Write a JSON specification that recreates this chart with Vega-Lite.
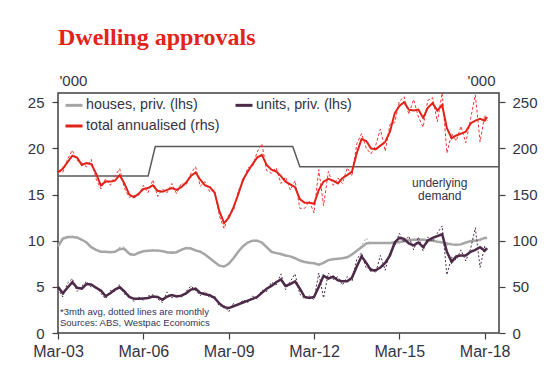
{
"$schema": "https://vega.github.io/schema/vega-lite/v6.json",
"width": 441, "height": 240,
"autosize": "none",
"padding": {"left": 58, "top": 93, "right": 59, "bottom": 58},
"background": "white",
"title": {"text": "Dwelling approvals", "anchor": "start", "frame": "group", "font": "Liberation Serif", "fontSize": 24, "fontWeight": "bold", "color": "#e2231a", "offset": 23},
"config": {
 "view": {"stroke": "#404040", "strokeWidth": 1.5},
 "font": "Liberation Sans",
 "axis": {"domain": false, "grid": false, "tickColor": "#404040", "tickWidth": 1.2, "tickSize": 6, "labelColor": "#333344", "titleColor": "#333344", "labelFont": "Liberation Sans", "titleFont": "Liberation Sans", "titleFontWeight": "normal"},
 "axisLeft": {"values": [0, 5, 10, 15, 20, 25], "labelFontSize": 15, "labelPadding": 8, "titleAngle": 0, "titleFontSize": 15, "titleAlign": "left", "titleBaseline": "alphabetic", "titleX": 1, "titleY": -8},
 "axisRight": {"values": [0, 50, 100, 150, 200, 250], "labelFontSize": 15, "labelPadding": 7, "titleAngle": 0, "titleFontSize": 15, "titleAlign": "right", "titleBaseline": "alphabetic", "titleX": -4, "titleY": -8}
},
"datasets": {
 "main": [
{"d":"2003-03-01","h":9.4,"hm":9.3,"u":5.0,"um":4.8,"t":174,"tm":176},
{"d":"2003-05-01","h":10.2,"hm":10.4,"u":4.3,"um":3.9,"t":178,"tm":174},
{"d":"2003-07-01","h":10.4,"hm":10.3,"u":4.9,"um":5.4,"t":185,"tm":188},
{"d":"2003-09-01","h":10.4,"hm":10.5,"u":5.5,"um":5.9,"t":192,"tm":198},
{"d":"2003-11-01","h":10.35,"hm":10.2,"u":4.9,"um":4.5,"t":190,"tm":187},
{"d":"2004-01-01","h":10.1,"hm":10.2,"u":4.8,"um":5.1,"t":182,"tm":184},
{"d":"2004-03-01","h":9.8,"hm":9.7,"u":5.3,"um":5.6,"t":184,"tm":180},
{"d":"2004-05-01","h":9.3,"hm":9.4,"u":5.25,"um":4.95,"t":183,"tm":188},
{"d":"2004-07-01","h":9.0,"hm":8.9,"u":4.9,"um":5.1,"t":173,"tm":167},
{"d":"2004-09-01","h":8.8,"hm":8.9,"u":4.6,"um":4.3,"t":160,"tm":156},
{"d":"2004-11-01","h":8.8,"hm":8.7,"u":4.0,"um":3.7,"t":164,"tm":167},
{"d":"2005-01-01","h":8.75,"hm":8.85,"u":4.3,"um":4.6,"t":164,"tm":160},
{"d":"2005-03-01","h":8.8,"hm":8.7,"u":4.7,"um":4.5,"t":165,"tm":170},
{"d":"2005-05-01","h":9.1,"hm":9.3,"u":4.95,"um":5.25,"t":171,"tm":178},
{"d":"2005-07-01","h":9.1,"hm":9.3,"u":4.5,"um":4.2,"t":162,"tm":157},
{"d":"2005-09-01","h":8.6,"hm":8.4,"u":3.9,"um":4.1,"t":150,"tm":147},
{"d":"2005-11-01","h":8.45,"hm":8.5,"u":3.7,"um":3.4,"t":147,"tm":149},
{"d":"2006-01-01","h":8.7,"hm":8.6,"u":3.7,"um":3.9,"t":151,"tm":149},
{"d":"2006-03-01","h":8.85,"hm":8.95,"u":3.75,"um":3.55,"t":156,"tm":160},
{"d":"2006-05-01","h":8.9,"hm":8.8,"u":3.8,"um":4.0,"t":157,"tm":152},
{"d":"2006-07-01","h":8.95,"hm":9.05,"u":3.95,"um":4.15,"t":160,"tm":166},
{"d":"2006-09-01","h":8.95,"hm":8.85,"u":3.9,"um":3.7,"t":154,"tm":148},
{"d":"2006-11-01","h":8.85,"hm":8.95,"u":3.6,"um":3.3,"t":153,"tm":156},
{"d":"2007-01-01","h":8.75,"hm":8.65,"u":3.95,"um":4.45,"t":155,"tm":152},
{"d":"2007-03-01","h":8.7,"hm":8.8,"u":4.1,"um":3.8,"t":157,"tm":162},
{"d":"2007-05-01","h":8.75,"hm":8.65,"u":3.95,"um":4.15,"t":155,"tm":151},
{"d":"2007-07-01","h":9.0,"hm":9.1,"u":4.05,"um":3.85,"t":158,"tm":162},
{"d":"2007-09-01","h":9.2,"hm":9.15,"u":4.3,"um":4.5,"t":163,"tm":160},
{"d":"2007-11-01","h":9.15,"hm":9.25,"u":4.7,"um":5.1,"t":170,"tm":173},
{"d":"2008-01-01","h":8.95,"hm":8.85,"u":4.8,"um":4.6,"t":174,"tm":180},
{"d":"2008-03-01","h":8.8,"hm":8.9,"u":4.35,"um":4.05,"t":166,"tm":159},
{"d":"2008-05-01","h":8.5,"hm":8.4,"u":4.2,"um":4.5,"t":160,"tm":164},
{"d":"2008-07-01","h":8.1,"hm":8.2,"u":4.1,"um":3.8,"t":158,"tm":153},
{"d":"2008-09-01","h":7.7,"hm":7.6,"u":3.8,"um":4.0,"t":152,"tm":155},
{"d":"2008-11-01","h":7.3,"hm":7.4,"u":3.2,"um":2.9,"t":132,"tm":127},
{"d":"2009-01-01","h":7.2,"hm":7.1,"u":2.8,"um":3.0,"t":119,"tm":113},
{"d":"2009-03-01","h":7.5,"hm":7.6,"u":2.7,"um":2.3,"t":125,"tm":128},
{"d":"2009-05-01","h":8.1,"hm":8.0,"u":2.9,"um":3.2,"t":136,"tm":132},
{"d":"2009-07-01","h":8.8,"hm":8.9,"u":3.1,"um":2.9,"t":150,"tm":154},
{"d":"2009-09-01","h":9.4,"hm":9.3,"u":3.3,"um":3.6,"t":166,"tm":163},
{"d":"2009-11-01","h":9.8,"hm":9.9,"u":3.5,"um":3.3,"t":175,"tm":179},
{"d":"2010-01-01","h":10.0,"hm":9.95,"u":3.7,"um":4.0,"t":183,"tm":180},
{"d":"2010-03-01","h":10.0,"hm":10.1,"u":3.9,"um":3.7,"t":190,"tm":196},
{"d":"2010-05-01","h":9.8,"hm":9.7,"u":4.35,"um":4.65,"t":193,"tm":205},
{"d":"2010-07-01","h":9.3,"hm":9.4,"u":4.8,"um":4.5,"t":182,"tm":176},
{"d":"2010-09-01","h":8.8,"hm":8.7,"u":5.1,"um":5.5,"t":177,"tm":173},
{"d":"2010-11-01","h":8.65,"hm":8.75,"u":5.5,"um":5.2,"t":175,"tm":179},
{"d":"2011-01-01","h":8.55,"hm":8.45,"u":5.8,"um":6.4,"t":170,"tm":162},
{"d":"2011-03-01","h":8.4,"hm":8.5,"u":5.1,"um":4.7,"t":164,"tm":169},
{"d":"2011-05-01","h":8.3,"hm":8.2,"u":5.3,"um":5.6,"t":161,"tm":155},
{"d":"2011-07-01","h":8.1,"hm":8.2,"u":5.6,"um":6.4,"t":158,"tm":165},
{"d":"2011-09-01","h":7.85,"hm":7.75,"u":4.8,"um":4.2,"t":145,"tm":135},
{"d":"2011-11-01","h":7.7,"hm":7.8,"u":3.9,"um":3.7,"t":141,"tm":135},
{"d":"2012-01-01","h":7.6,"hm":7.5,"u":3.8,"um":4.0,"t":141,"tm":143},
{"d":"2012-03-01","h":7.55,"hm":7.65,"u":3.9,"um":3.6,"t":140,"tm":130},
{"d":"2012-05-01","h":7.4,"hm":7.3,"u":5.0,"um":6.5,"t":155,"tm":177},
{"d":"2012-07-01","h":7.6,"hm":7.7,"u":6.2,"um":3.8,"t":164,"tm":138},
{"d":"2012-09-01","h":7.9,"hm":7.8,"u":5.9,"um":6.5,"t":167,"tm":175},
{"d":"2012-11-01","h":8.0,"hm":8.1,"u":6.1,"um":5.8,"t":165,"tm":160},
{"d":"2013-01-01","h":8.05,"hm":7.95,"u":5.7,"um":6.1,"t":162,"tm":168},
{"d":"2013-03-01","h":8.1,"hm":8.2,"u":5.6,"um":5.2,"t":168,"tm":162},
{"d":"2013-05-01","h":8.2,"hm":8.1,"u":5.6,"um":6.1,"t":171,"tm":179},
{"d":"2013-07-01","h":8.5,"hm":8.6,"u":6.0,"um":5.6,"t":175,"tm":170},
{"d":"2013-09-01","h":8.9,"hm":8.8,"u":7.2,"um":8.0,"t":195,"tm":205},
{"d":"2013-11-01","h":9.3,"hm":9.5,"u":8.3,"um":8.7,"t":210,"tm":216},
{"d":"2014-01-01","h":9.7,"hm":10.3,"u":7.6,"um":7.0,"t":208,"tm":200},
{"d":"2014-03-01","h":9.75,"hm":9.7,"u":6.8,"um":7.1,"t":200,"tm":194},
{"d":"2014-05-01","h":9.75,"hm":9.8,"u":6.8,"um":6.5,"t":199,"tm":203},
{"d":"2014-07-01","h":9.75,"hm":9.7,"u":7.1,"um":8.4,"t":203,"tm":221},
{"d":"2014-09-01","h":9.75,"hm":9.8,"u":7.6,"um":6.8,"t":207,"tm":197},
{"d":"2014-11-01","h":9.75,"hm":9.7,"u":8.4,"um":8.8,"t":218,"tm":226},
{"d":"2015-01-01","h":9.8,"hm":9.9,"u":9.8,"um":9.4,"t":238,"tm":228},
{"d":"2015-03-01","h":9.85,"hm":9.75,"u":10.3,"um":10.8,"t":246,"tm":251},
{"d":"2015-05-01","h":9.95,"hm":10.05,"u":10.2,"um":9.8,"t":250,"tm":256},
{"d":"2015-07-01","h":10.05,"hm":9.95,"u":9.7,"um":10.5,"t":242,"tm":237},
{"d":"2015-09-01","h":10.1,"hm":10.2,"u":9.5,"um":9.0,"t":241,"tm":253},
{"d":"2015-11-01","h":10.1,"hm":10.0,"u":9.8,"um":10.4,"t":242,"tm":234},
{"d":"2016-01-01","h":10.1,"hm":10.2,"u":9.3,"um":8.9,"t":233,"tm":223},
{"d":"2016-03-01","h":10.05,"hm":9.95,"u":10.0,"um":10.4,"t":244,"tm":252},
{"d":"2016-05-01","h":10.0,"hm":10.1,"u":10.3,"um":9.9,"t":249,"tm":255},
{"d":"2016-07-01","h":9.9,"hm":9.8,"u":10.5,"um":10.8,"t":241,"tm":229},
{"d":"2016-09-01","h":9.8,"hm":9.9,"u":10.7,"um":11.6,"t":247,"tm":260},
{"d":"2016-11-01","h":9.7,"hm":9.5,"u":8.8,"um":6.3,"t":222,"tm":195},
{"d":"2017-01-01","h":9.6,"hm":9.7,"u":7.7,"um":8.2,"t":211,"tm":216},
{"d":"2017-03-01","h":9.55,"hm":9.5,"u":8.3,"um":7.9,"t":214,"tm":208},
{"d":"2017-05-01","h":9.6,"hm":9.7,"u":8.4,"um":9.0,"t":216,"tm":224},
{"d":"2017-07-01","h":9.8,"hm":9.75,"u":8.4,"um":7.8,"t":218,"tm":206},
{"d":"2017-09-01","h":9.95,"hm":10.05,"u":8.8,"um":9.1,"t":227,"tm":232},
{"d":"2017-11-01","h":10.0,"hm":10.2,"u":9.0,"um":11.4,"t":230,"tm":258},
{"d":"2018-01-01","h":10.1,"hm":10.0,"u":9.3,"um":7.1,"t":232,"tm":207},
{"d":"2018-03-01","h":10.3,"hm":10.4,"u":8.9,"um":9.4,"t":230,"tm":236},
{"d":"2018-04-01","h":10.3,"hm":10.25,"u":9.2,"um":9.0,"t":234,"tm":230}
 ],
 "demand": [
{"d":"2003-03-01","v":170},
{"d":"2006-05-01","v":170},
{"d":"2006-08-01","v":202},
{"d":"2011-06-01","v":202},
{"d":"2011-09-01","v":180},
{"d":"2018-09-01","v":180}
 ],
 "notes": [
{"d":"2003-03-01","v":2.3,"t":"*3mth avg, dotted lines are monthly"},
{"d":"2003-03-01","v":1.05,"t":"Sources: ABS, Westpac Economics"}
 ],
 "lbl": [
{"d":"2016-08-01","v":163,"t":"underlying"},
{"d":"2016-08-01","v":148,"t":"demand"}
 ]
},
"encoding": {
 "x": {"field": "d", "type": "temporal",
  "scale": {"type": "utc", "domain": [{"year": 2003, "month": 3, "date": 1, "utc": true}, {"year": 2018, "month": 9, "date": 1, "utc": true}]},
  "axis": {"title": null, "format": "%b-%y", "labelFontSize": 16, "labelPadding": 4, "labelFlush": false, "labelOverlap": false,
   "values": [{"year": 2003, "month": 3, "date": 1, "utc": true}, {"year": 2006, "month": 3, "date": 1, "utc": true}, {"year": 2009, "month": 3, "date": 1, "utc": true}, {"year": 2012, "month": 3, "date": 1, "utc": true}, {"year": 2015, "month": 3, "date": 1, "utc": true}, {"year": 2018, "month": 3, "date": 1, "utc": true}]}}
},
"layer": [
 {
  "data": {"name": "main"},
  "layer": [
   {"mark": {"type": "line", "strokeWidth": 1, "strokeDash": [2, 2], "color": "#a6a6a6"},
    "encoding": {"y": {"field": "hm", "type": "quantitative", "scale": {"domain": [0, 26], "nice": false},
     "axis": {"orient": "left", "title": "'000"}}}},
   {"mark": {"type": "line", "strokeWidth": 2.5},
    "encoding": {"y": {"field": "h", "type": "quantitative", "axis": {"orient": "left", "title": "'000"}},
     "color": {"datum": "houses, priv. (lhs)", "type": "nominal",
      "scale": {"domain": ["houses, priv. (lhs)", "units, priv. (lhs)", "total annualised (rhs)"], "range": ["#a6a6a6", "#4d2a47", "#e2231a"]},
      "legend": {"orient": "none", "legendX": 6, "legendY": 2, "direction": "horizontal", "columns": 2, "title": null, "symbolType": "stroke", "symbolSize": 289, "symbolStrokeWidth": 3, "labelFontSize": 14.3, "labelFont": "Liberation Sans", "labelColor": "#333344", "labelOffset": 2, "rowPadding": 3, "columnPadding": 9, "padding": 0, "labelLimit": 400}}}},
   {"mark": {"type": "line", "strokeWidth": 1, "strokeDash": [2, 2], "color": "#4d2a47"},
    "encoding": {"y": {"field": "um", "type": "quantitative", "axis": {"orient": "left", "title": "'000"}}}},
   {"mark": {"type": "line", "strokeWidth": 2.5},
    "encoding": {"y": {"field": "u", "type": "quantitative", "axis": {"orient": "left", "title": "'000"}},
     "color": {"datum": "units, priv. (lhs)", "type": "nominal",
      "scale": {"domain": ["houses, priv. (lhs)", "units, priv. (lhs)", "total annualised (rhs)"], "range": ["#a6a6a6", "#4d2a47", "#e2231a"]}}}},
   {"data": {"name": "notes"},
    "mark": {"type": "text", "align": "left", "dx": 2, "fontSize": 9.5, "font": "Liberation Sans", "color": "#333355"},
    "encoding": {"y": {"field": "v", "type": "quantitative", "axis": {"orient": "left", "title": "'000"}}, "text": {"field": "t"}}}
  ]
 },
 {
  "layer": [
   {"data": {"name": "demand"},
    "mark": {"type": "line", "color": "#595959", "strokeWidth": 1.5},
    "encoding": {"y": {"field": "v", "type": "quantitative", "scale": {"domain": [0, 260], "nice": false},
     "axis": {"orient": "right", "title": "'000"}}}},
   {"data": {"name": "main"},
    "mark": {"type": "line", "strokeWidth": 1, "strokeDash": [3, 2], "color": "#ee3a3a"},
    "encoding": {"y": {"field": "tm", "type": "quantitative", "axis": {"orient": "right", "title": "'000"}}}},
   {"data": {"name": "main"},
    "mark": {"type": "line", "strokeWidth": 2},
    "encoding": {"y": {"field": "t", "type": "quantitative", "axis": {"orient": "right", "title": "'000"}},
     "color": {"datum": "total annualised (rhs)", "type": "nominal",
      "scale": {"domain": ["houses, priv. (lhs)", "units, priv. (lhs)", "total annualised (rhs)"], "range": ["#a6a6a6", "#4d2a47", "#e2231a"]}}}},
   {"data": {"name": "lbl"},
    "mark": {"type": "text", "align": "center", "fontSize": 12, "font": "Liberation Sans", "color": "#333344"},
    "encoding": {"y": {"field": "v", "type": "quantitative", "axis": {"orient": "right", "title": "'000"}}, "text": {"field": "t"}}}
  ]
 }
],
"resolve": {"scale": {"y": "independent"}}
}
